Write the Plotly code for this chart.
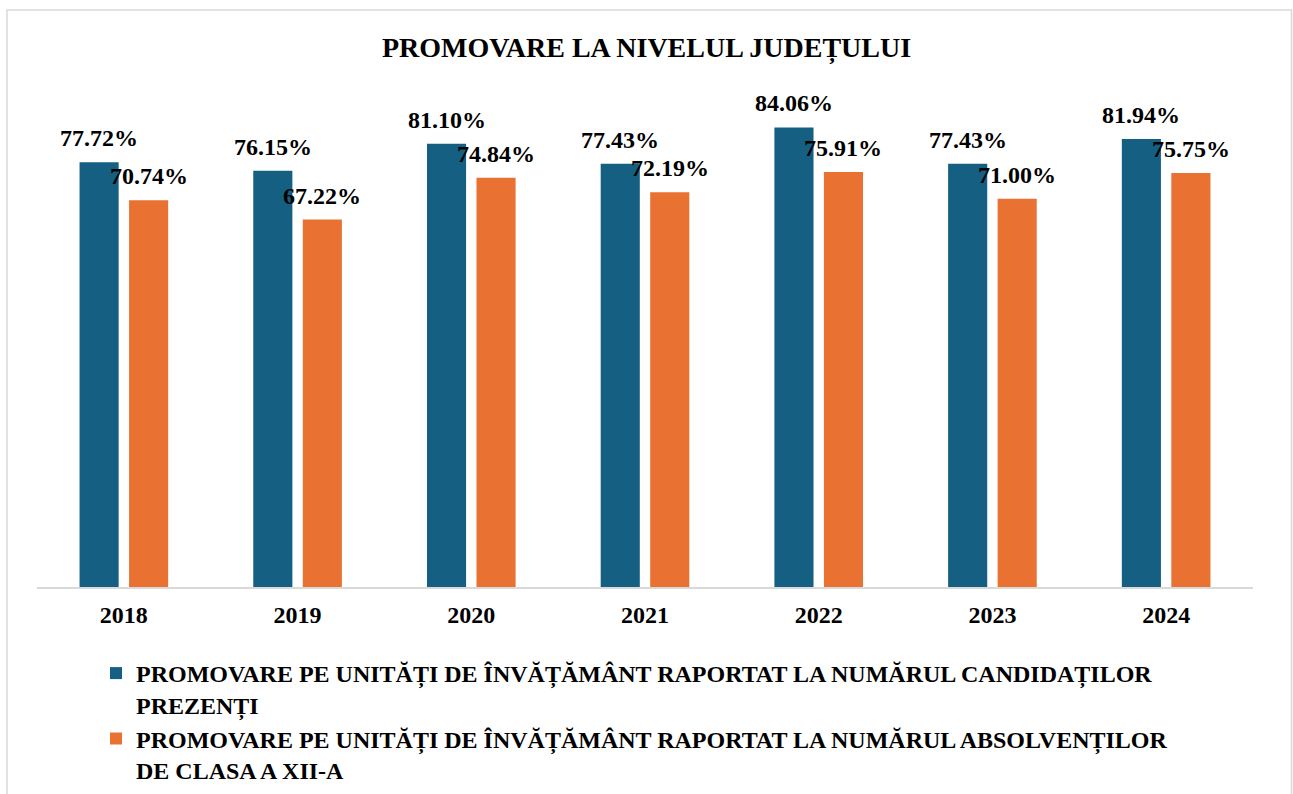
import plotly.graph_objects as go

years = ["2018", "2019", "2020", "2021", "2022", "2023", "2024"]
promovare_prezenti = [77.72, 76.15, 81.10, 77.43, 84.06, 77.43, 81.94]
promovare_absolventi = [70.74, 67.22, 74.84, 72.19, 75.91, 71.00, 75.75]
series_names = [
    "PROMOVARE PE UNITĂȚI DE ÎNVĂȚĂMÂNT RAPORTAT LA NUMĂRUL CANDIDAȚILOR<br>PREZENȚI",
    "PROMOVARE PE UNITĂȚI DE ÎNVĂȚĂMÂNT RAPORTAT LA NUMĂRUL ABSOLVENȚILOR<br>DE CLASA A XII-A",
]
title_text = "PROMOVARE LA NIVELUL JUDEȚULUI"

BLUE = "#156082"
ORANGE = "#E97132"
SERIF = "Liberation Serif"

W, H = 1293, 794
ML, MR, MT, MB = 37, 40, 95, 207
plot_w = W - ML - MR
plot_h = H - MT - MB
BARGAP = 0.43

fig = go.Figure()
fig.add_trace(go.Bar(x=years, y=promovare_prezenti, name=series_names[0],
                     marker=dict(color=BLUE, line=dict(width=0))))
fig.add_trace(go.Bar(x=years, y=promovare_absolventi, name=series_names[1],
                     marker=dict(color=ORANGE, line=dict(width=0))))

# value labels above each bar, shifted to the bar's slot inside the group
band = plot_w / len(years)
slot = band * (1 - BARGAP) / 2
label_font = dict(family=SERIF, size=24, color="black", weight="bold")
for series, dx in ((promovare_prezenti, -slot / 2), (promovare_absolventi, slot / 2)):
    for i, v in enumerate(series):
        fig.add_annotation(x=i, y=v, xref="x", yref="y", text=f"{v:.2f}%",
                           showarrow=False, xshift=dx, yshift=24,
                           yanchor="middle", font=label_font)

# light frame around the chart (open at the bottom edge of the canvas)
px = lambda p: (p - ML) / plot_w
py = lambda p: (H - MB - p) / plot_h
fig.add_shape(type="rect", xref="paper", yref="paper",
              x0=px(7), x1=px(1291.5), y0=py(805), y1=py(10),
              line=dict(color="#d9d9d9", width=1.5), fillcolor="rgba(0,0,0,0)",
              layer="below")

fig.update_layout(
    width=W, height=H,
    margin=dict(l=ML, r=MR, t=MT, b=MB, autoexpand=False),
    paper_bgcolor="white", plot_bgcolor="white",
    barmode="group", bargap=BARGAP, bargroupgap=0.21,
    title=dict(text=title_text, x=0.5, xref="container", y=1 - 47 / H,
               yref="container", xanchor="center", yanchor="middle",
               font=dict(family=SERIF, size=28, color="black", weight="bold")),
    xaxis=dict(type="category", range=[-0.5, len(years) - 0.5],
               showline=True, linecolor="#d9d9d9", linewidth=2,
               ticks="", showgrid=False, ticklabelstandoff=5,
               tickfont=dict(family=SERIF, size=24, color="black", weight="bold")),
    yaxis=dict(range=[0, 90], visible=False, showgrid=False, zeroline=False),
    legend=dict(orientation="v", x=px(96), xanchor="left", y=py(651),
                yanchor="top", valign="top", traceorder="normal",
                font=dict(family=SERIF, size=24, color="black", weight="bold"),
                bgcolor="rgba(0,0,0,0)", tracegroupgap=0),
    showlegend=True,
)

fig.write_html("out.html")
